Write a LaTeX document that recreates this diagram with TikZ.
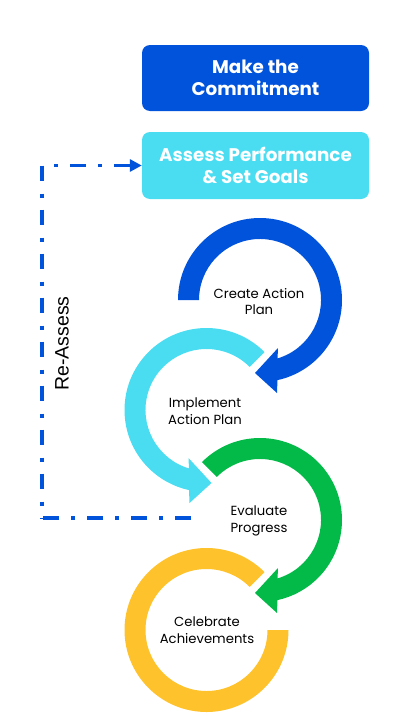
\documentclass[tikz,border=0pt]{standalone}
\usepackage{fontspec}
\setmainfont{Poppins}
\newfontfamily\arialf{Liberation Sans}
\usetikzlibrary{arrows.meta,calc}
\definecolor{cblue}{HTML}{0153DB}
\definecolor{ccyan}{HTML}{4ADDF2}
\definecolor{cgreen}{HTML}{03BA48}
\definecolor{cyellow}{HTML}{FEC22D}
\begin{document}
\begin{tikzpicture}[x=1pt,y=-1pt,
  box/.style={rounded corners=8pt, minimum width=227pt, minimum height=66pt, align=center,
    text=white, font=\fontsize{18.3}{22}\selectfont\bfseries, inner sep=0pt},
  lbl/.style={align=center, font=\fontsize{13.2}{16.8}\selectfont, text=black},
  reassess/.style={draw=cblue, line width=3.8pt}]
\useasboundingbox (0,0) rectangle (416,720);
% boxes
\node[box, fill=cblue] (box1) at (255.5,78) {Make the\\Commitment};
\node[box, fill=ccyan, minimum height=67pt] (box2) at (255.5,165.5) {Assess Performance\\\& Set Goals};
% ring centres
\coordinate (B) at (260,300);
\coordinate (C) at (206.5,410);
\coordinate (G) at (260,520);
\coordinate (Y) at (206.5,630);
% blue ring
\fill[cblue] ($(B)+(180:82)$) arc[start angle=180,end angle=437.7,radius=82]
  -- ($(B)+(17,93)$) -- ($(B)+(-5,73)$) -- ($(B)+(18,48)$)
  -- ($(B)+(433.3:61)$) arc[start angle=433.3,end angle=180,radius=61] -- cycle;
% cyan ring
\fill[ccyan] ($(C)+(-45:82)$) arc[start angle=-45,end angle=-257.7,radius=82]
  -- ($(C)+(-17,93)$) -- ($(C)+(5,73)$) -- ($(C)+(-18,48)$)
  -- ($(C)+(-253.3:61)$) arc[start angle=-253.3,end angle=-45,radius=61] -- cycle;
% green ring
\fill[cgreen] ($(G)+(225:82)$) arc[start angle=225,end angle=437.7,radius=82]
  -- ($(G)+(17,93)$) -- ($(G)+(-5,73)$) -- ($(G)+(18,48)$)
  -- ($(G)+(433.3:61)$) arc[start angle=433.3,end angle=225,radius=61] -- cycle;
% yellow ring
\fill[cyellow] ($(Y)+(-45:82)$) arc[start angle=-45,end angle=-360,radius=82]
  -- ($(Y)+(0:61)$) arc[start angle=-360,end angle=-45,radius=61] -- cycle;
% labels
\node[lbl] (l1) at (259,301.5) {Create Action\\Plan};
\node[lbl] (l2) at (205,411) {Implement\\Action Plan};
\node[lbl] (l3) at (259,521) {Evaluate\\Progress};
\node[lbl] (l4) at (207,630) {Celebrate\\Achievements};
% re-assess loop
\coordinate (r1) at (191,518);
\coordinate (r2) at (42,518);
\coordinate (r3) at (42,165.5);
\draw[reassess, dash pattern=on 16pt off 12pt on 4pt off 12pt] (r1) -- (r2);
\draw[reassess, dash pattern=on 15pt off 13pt on 4pt off 12pt] (r3) -- (r2);
\draw[reassess, dash pattern=on 16pt off 12pt on 4pt off 12pt, dash phase=16pt,
  -{Triangle[length=12pt,width=12pt]}] (r3) -- (box2.west);
\node[rotate=90, font=\arialf\fontsize{19.5}{22}\selectfont] (ra) at (62,343.5) {Re-Assess};
\end{tikzpicture}
\end{document}
